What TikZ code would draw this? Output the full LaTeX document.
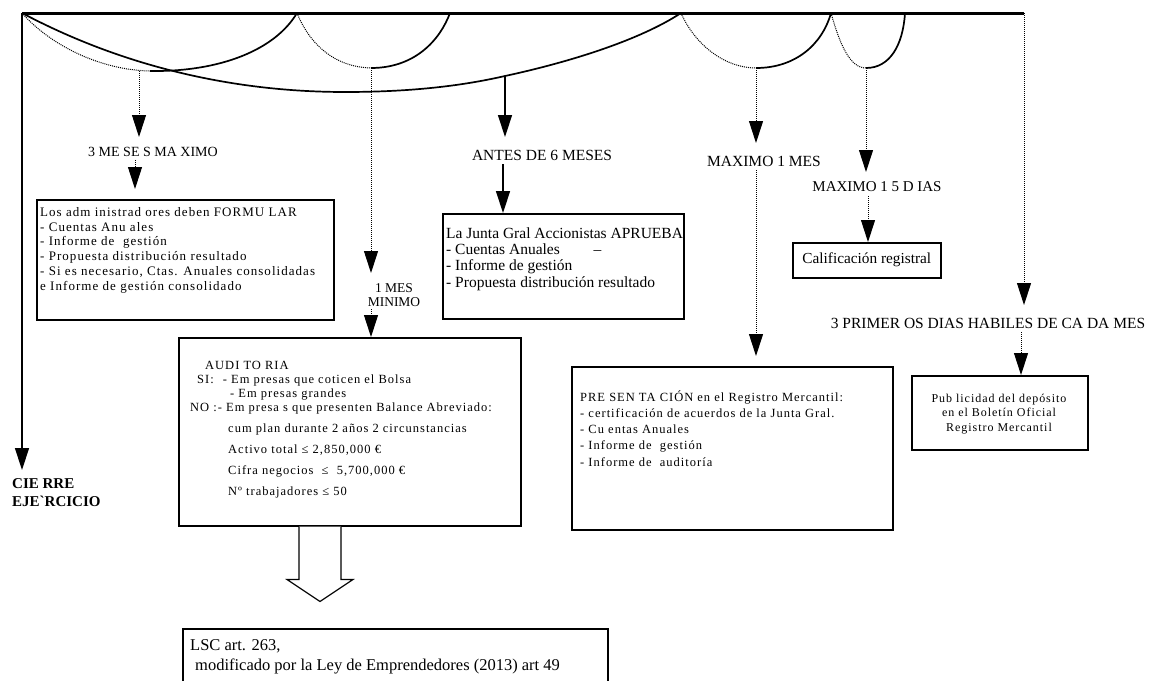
\documentclass[tikz,border=0pt]{standalone}
\usepackage{fontspec}
\setmainfont{Liberation Serif}
\newfontfamily\scanfont[LetterSpace=8]{Liberation Serif}
\usetikzlibrary{arrows.meta,calc}
\newcommand{\fs}[2]{\fontsize{#1}{#2}\selectfont}
\newcommand{\topstrut}{\vrule height 1em depth 0pt width 0pt}
\begin{document}
\begin{tikzpicture}[x=1pt,y=-1pt,
  thickline/.style={line width=3pt},
  swagsolid/.style={line width=1.7pt},
  swagdot/.style={line width=1pt, densely dotted},
  head/.style={-{Triangle[length=22pt,width=14pt]}},
  solidarrow/.style={line width=1.4pt, head},
  dotarrow/.style={line width=1pt, densely dotted, head},
  box/.style={draw, line width=1.5pt, rectangle, inner sep=0pt, anchor=north west},
  lbl/.style={inner sep=0pt, font=\fs{15.5}{18}},
  txt/.style={inner sep=0pt, anchor=north west, align=left},
  blockarrow/.style={line width=1.2pt, fill=white},
]
\useasboundingbox (0,0) rectangle (1155,680);
% ---- top structure
\coordinate (TL) at (22,13);
\coordinate (TR) at (1024,13);
\coordinate (A1) at (297,13);
\coordinate (A2) at (450,13);
\coordinate (B1) at (681,13);
\coordinate (A4) at (831,13);
\coordinate (A5) at (905,13);
\coordinate (S2) at (150,71);
\coordinate (S3) at (371,68);
\coordinate (S4) at (756,68);
\coordinate (S5) at (866,68);
\coordinate (M1) at (345,92);
\coordinate (ANT) at (505,76);
\coordinate (P3m) at (139,71);
% arrow tips
\coordinate (TLtip) at (22,470);
\coordinate (T3m) at (139,137);
\coordinate (T1mes) at (371,273);
\coordinate (TAnt) at (505,137);
\coordinate (TMax) at (756,143);
\coordinate (T15) at (866,172);
\coordinate (TRtip) at (1024,305);
% x lines of lower arrows
\coordinate (x3m) at (135,0);
\coordinate (xant) at (503,0);
\coordinate (x1mes) at (371,0);
\coordinate (xmax) at (756,0);
\coordinate (x15) at (868,0);
\coordinate (x3p) at (1021,0);

\draw[swagsolid] (TL) .. controls (120,65) and (230,92) .. (M1)
  .. controls (420,92) and (470,84) .. (ANT)
  .. controls (570,62) and (640,40) .. (B1);
\draw[swagdot] (TL) .. controls (50,45) and (100,70) .. (S2);
\draw[swagsolid] (S2) .. controls (220,72) and (275,50) .. (A1);
\draw[swagdot] (A1) .. controls (310,45) and (335,67) .. (S3);
\draw[swagsolid] (S3) .. controls (415,68) and (440,40) .. (A2);
\draw[swagdot] (B1) .. controls (695,45) and (725,68) .. (S4);
\draw[swagsolid] (S4) .. controls (795,68) and (822,45) .. (A4);
\draw[swagdot] (A4) .. controls (840,45) and (850,68) .. (S5);
\draw[swagsolid] (S5) .. controls (890,68) and (903,45) .. (A5);
\draw[thickline] (TL) -- (TR);

% ---- labels
\node[lbl, font=\fs{14}{16}] (l3m) at (153,152) {3 ME SE S MA XIMO};
\node[lbl] (lantes) at (542,155) {ANTES DE 6 MESES};
\node[lbl, align=center, font=\fs{13.5}{13.5}] (l1mes) at (394,295) {1 MES\\MINIMO};
\node[lbl] (lmax1) at (764,161) {MAXIMO 1 MES};
\node[lbl, font=\fs{15}{17}] (l15) at (877,187) {MAXIMO 1 5 D IAS};
\node[lbl] (l3p) at (988,323) {3 PRIMER OS DIAS HABILES DE CA DA MES};
\node[txt, font=\bfseries\fs{15}{18}] (lcierre) at (12,478) {CIE RRE\\EJE\textasciigrave RCICIO};

% ---- boxes
\node[box, minimum width=297pt, minimum height=120pt] (form) at (36,199) {};
\node[box, minimum width=241pt, minimum height=105pt] (junta) at (442,213) {};
\node[box, minimum width=148pt, minimum height=35pt] (calif) at (792,242) {};
\node[box, minimum width=342pt, minimum height=188pt] (aud) at (178,337) {};
\node[box, minimum width=321pt, minimum height=163pt] (pres) at (571,366) {};
\node[box, minimum width=176pt, minimum height=74pt] (pub) at (911,375) {};
\node[box, minimum width=425pt, minimum height=60pt] (lsc) at (182,628) {};

% ---- box texts
\node[txt, font=\scanfont\fs{13}{14.8}] (formtxt) at (40,203) {\topstrut Los adm inistrad ores deben FORMU LAR\\
- Cuentas Anu ales\\
- Informe de \ gestión\\
- Propuesta distribución resultado\\
- Si es necesario, Ctas. Anuales consolidadas\\
e Informe de gestión consolidado};

\node[txt, font=\fs{15.5}{16.3}] (juntatxt) at (446,222.5) {\topstrut La Junta Gral Accionistas APRUEBA\\
- Cuentas Anuales \hspace*{30pt}–\\
- Informe de gestión\\
- Propuesta distribución resultado};

\node[inner sep=0pt, font=\fs{15.3}{17}] (califtxt) at (calif.center) {Calificación registral};

\node[txt, font=\scanfont\fs{12.5}{14}] (audtxt) at (190,356.5) {\topstrut\hspace*{15pt}AUDI TO RIA\\
\hspace*{7pt}SI: \hspace*{5pt}- Em presas que coticen el Bolsa\\
\hspace*{40pt}- Em presas grandes\\
NO :- Em presa s que presenten Balance Abreviado:\\[7pt]
\hspace*{38pt}cum plan durante 2 años 2 circunstancias\\[7pt]
\hspace*{38pt}Activo total ≤ 2,850,000 €\\[7pt]
\hspace*{38pt}Cifra negocios \ ≤ \ 5,700,000 €\\[7pt]
\hspace*{38pt}Nº trabajadores ≤ 50};

\node[txt, font=\scanfont\fs{12.5}{16.2}] (prestxt) at (580,388.5) {\topstrut PRE SEN TA CIÓN en el Registro Mercantil:\\
- certificación de acuerdos de la Junta Gral.\\
- Cu entas Anuales\\
- Informe de \ gestión\\
- Informe de \ auditoría};

\node[inner sep=0pt, anchor=north, align=center, font=\scanfont\fs{12}{14.5}] (pubtxt) at (999,390) {\topstrut Pub licidad del depósito\\
en el Boletín Oficial\\
Registro Mercantil};

\node[txt, font=\fs{16.5}{20}] (lsctxt) at (190,633.5) {\topstrut LSC art. 263,\\
\hspace*{5pt}modificado por la Ley de Emprendedores (2013) art 49};

% ---- connectors from the top swags
\draw[solidarrow] (TL) -- (TLtip);
\draw[dotarrow] (P3m) -- (T3m);
\draw[dotarrow] (S3) -- (T1mes);
\draw[solidarrow] (ANT) -- (TAnt);
\draw[dotarrow] (S4) -- (TMax);
\draw[dotarrow] (S5) -- (T15);
\draw[dotarrow] (TR) -- (TRtip);

% ---- connectors from labels to boxes
\draw[dotarrow, shorten >=10pt] (x3m |- l3m.south) ++(0,3) -- (x3m |- form.north);
\draw[solidarrow] (xant |- lantes.south) ++(0,4) -- (xant |- junta.north);
\draw[dotarrow] (x1mes |- l1mes.south) ++(0,3) -- (x1mes |- aud.north);
\draw[dotarrow, shorten >=10pt] (xmax |- lmax1.south) ++(0,4) -- (xmax |- pres.north);
\draw[dotarrow] (x15 |- l15.south) ++(0,4) -- (x15 |- calif.north);
\draw[dotarrow] (x3p |- l3p.south) ++(0,4) -- (x3p |- pub.north);

% ---- hollow block arrow from AUDITORIA to LSC
\draw[blockarrow] ($(aud.south west)+(121,0)$) -- ++(0,53) -- ++(-12,0)
  -- ++(33,22) -- ++(33,-22) -- ++(-12,0) -- ++(0,-53);
\end{tikzpicture}
\end{document}
